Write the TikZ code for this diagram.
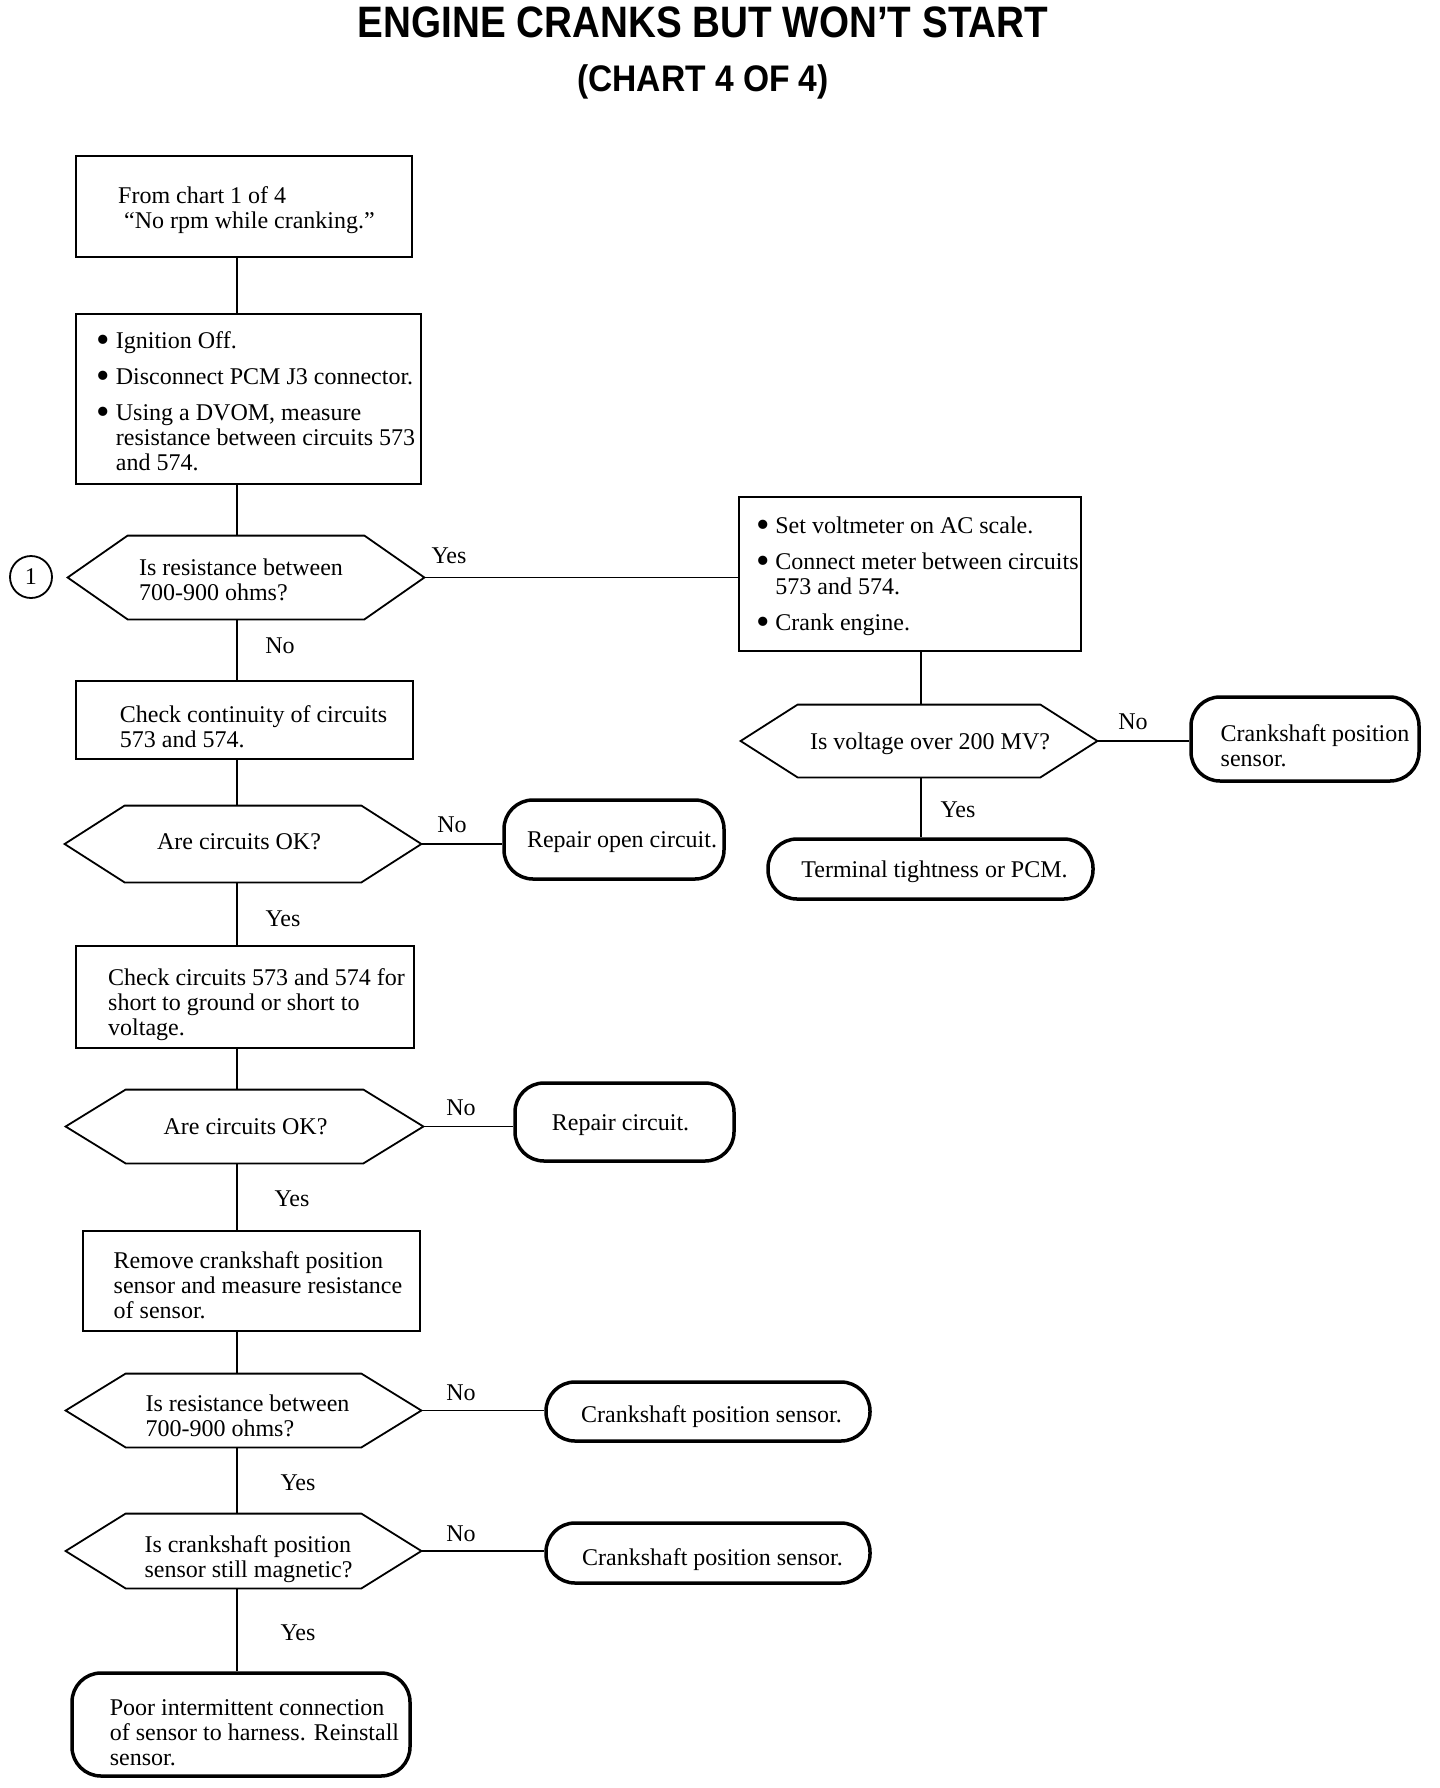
\documentclass[tikz,border=0pt]{standalone}
\usepackage{fontspec}
\setmainfont{Liberation Serif}
\newfontfamily\titlefont{Liberation Sans}
\usetikzlibrary{calc}
\newdimen\px \px=0.5pt
\newcommand\bul{\makebox[8.5pt][l]{\hspace*{-1.1pt}\raisebox{-2.2pt}{\scalebox{1.6}{\textbullet}}}}
\newcommand\ind{\hspace*{8.5pt}}
% text block shifted by (#1,#2) px without changing its box
\newcommand\tx[3]{\hspace*{#1\px}\raisebox{-#2\px}[\height][\depth]{\begin{tabular}{@{}l@{}}#3\end{tabular}}\hspace*{-#1\px}}
\begin{document}
\begin{tikzpicture}[x=0.5pt,y=-0.5pt,
  every node/.style={font=\fontsize{12pt}{12.5pt}\selectfont, inner sep=0pt},
  box/.style={draw, line width=2\px},
  hexnode/.style={},
  term/.style={draw, line width=3.5\px, rounded corners=29\px},
  conn/.style={line width=1.6\px},
  hexline/.style={line width=1.8\px, line join=miter},
  ttl/.style={anchor=base, font=\titlefont\bfseries\fontsize{22pt}{22pt}\selectfont},
  sub/.style={anchor=base, font=\titlefont\bfseries\fontsize{18.5pt}{18.5pt}\selectfont}]
\useasboundingbox (0,0) rectangle (1440,1788);

% titles
\node[ttl] (title) at (703,37) {\scalebox{0.878}[1]{ENGINE CRANKS BUT WON’T START}};
\node[sub] (subtitle) at (703,91) {\scalebox{0.907}[1]{(CHART 4 OF 4)}};

% trunk coordinates
\coordinate (trunk) at (237,0);
\coordinate (rtrunk) at (921,0);

% left column
\node[box, minimum width=336\px, minimum height=101\px] (b1) at (244,206.5)
  {\tx{2.5}{4}{From chart 1 of 4\\\hspace*{3pt}“No rpm while cranking.”}};
\node[box, minimum width=345\px, minimum height=170\px] (b2) at (248.5,399)
  {\tx{8.5}{5.5}{\bul Ignition Off.\\[5.5pt]
   \bul Disconnect PCM J3 connector.\\[5.5pt]
   \bul Using a DVOM, measure\\
   \ind resistance between circuits 573\\
   \ind and 574.}};
\node[hexnode, minimum width=356\px, minimum height=83\px] (h1) at (246,577.5)
  {\tx{-5}{5.5}{Is resistance between\\700-900 ohms?}};
\node[draw, circle, line width=1.8\px, minimum size=42\px] (c1) at (31,577) {1};

\node[box, minimum width=337\px, minimum height=78\px] (b4) at (244.5,720)
  {\tx{9}{10}{Check continuity of circuits\\573 and 574.}};
\node[hexnode, minimum width=356\px, minimum height=76\px] (h2) at (243,844)
  {\tx{-4}{0}{Are circuits OK?}};
\node[term, minimum width=220\px, minimum height=79\px] (t1) at (614,839.5)
  {\tx{8}{2.5}{Repair open circuit.}};

\node[box, minimum width=338\px, minimum height=102\px] (b5) at (245,997)
  {\tx{11.5}{8}{Check circuits 573 and 574 for\\short to ground or short to\\voltage.}};
\node[hexnode, minimum width=357\px, minimum height=73\px] (h3) at (244.5,1126.5)
  {\tx{1}{3}{Are circuits OK?}};
\node[term, minimum width=219\px, minimum height=78\px] (t2) at (624.5,1122)
  {\tx{-4}{3.5}{Repair circuit.}};

\node[box, minimum width=337\px, minimum height=100\px] (b6) at (251.5,1281)
  {\tx{6.5}{7.5}{Remove crankshaft position\\sensor and measure resistance\\of sensor.}};
\node[hexnode, minimum width=355\px, minimum height=73\px] (h4) at (243.5,1410.5)
  {\tx{4}{8}{Is resistance between\\700-900 ohms?}};
\node[term, minimum width=324\px, minimum height=59\px] (t3) at (708,1411.5)
  {\tx{3.5}{5.5}{Crankshaft position sensor.}};

\node[hexnode, minimum width=355\px, minimum height=74\px] (h5) at (243.5,1551)
  {\tx{5}{9}{Is crankshaft position\\sensor still magnetic?}};
\node[term, minimum width=324\px, minimum height=60\px] (t4) at (708,1553)
  {\tx{4.5}{7}{Crankshaft position sensor.}};

\node[term, minimum width=338\px, minimum height=103\px] (t5) at (241,1724.5)
  {\tx{13.5}{11}{Poor intermittent connection\\of sensor to harness. Reinstall\\sensor.}};

% right column
\node[box, minimum width=342\px, minimum height=154\px] (b3) at (910,574)
  {\tx{8.5}{2.5}{\bul Set voltmeter on AC scale.\\[5.5pt]
   \bul Connect meter between circuits\\
   \ind 573 and 574.\\[5.5pt]
   \bul Crank engine.}};
\node[hexnode, minimum width=356\px, minimum height=72\px] (hR) at (919,741)
  {\tx{11}{3.5}{Is voltage over 200 MV?}};
\node[term, minimum width=228\px, minimum height=84\px] (tR1) at (1305,739)
  {\tx{10}{10}{Crankshaft position\\sensor.}};
\node[term, minimum width=325\px, minimum height=60\px] (tR2) at (930.5,869)
  {\tx{4}{3.5}{Terminal tightness or PCM.}};

% hexagon outlines
\foreach \n/\d in {h1/60,h2/60,h3/60,h4/60,h5/60,hR/57}
  \draw[hexline] (\n.west) -- ($(\n.north west)+(\d,0)$) -- ($(\n.north east)+(-\d,0)$)
    -- (\n.east) -- ($(\n.south east)+(-\d,0)$) -- ($(\n.south west)+(\d,0)$) -- cycle;

% labels
\node (l1) at (449,556) {Yes};
\node (l2) at (280,646) {No};
\node (l3) at (452,825) {No};
\node (l4) at (283,919) {Yes};
\node (l5) at (1133,722) {No};
\node (l6) at (958,810) {Yes};
\node (l7) at (461,1108) {No};
\node (l8) at (292,1199) {Yes};
\node (l9) at (461,1393) {No};
\node (l10) at (298,1483) {Yes};
\node (l11) at (461,1534) {No};
\node (l12) at (298,1633) {Yes};

% connectors
\draw[conn] (b1.south -| trunk) -- (b2.north -| trunk);
\draw[conn] (b2.south -| trunk) -- (h1.north -| trunk);
\draw[conn] (h1.east) -- (h1.east -| b3.west);
\draw[conn] (h1.south -| trunk) -- (b4.north -| trunk);
\draw[conn] (b4.south -| trunk) -- (h2.north -| trunk);
\draw[conn] (h2.east) -- (h2.east -| t1.west);
\draw[conn] (h2.south -| trunk) -- (b5.north -| trunk);
\draw[conn] (b5.south -| trunk) -- (h3.north -| trunk);
\draw[conn] (h3.east) -- (h3.east -| t2.west);
\draw[conn] (h3.south -| trunk) -- (b6.north -| trunk);
\draw[conn] (b6.south -| trunk) -- (h4.north -| trunk);
\draw[conn] (h4.east) -- (h4.east -| t3.west);
\draw[conn] (h4.south -| trunk) -- (h5.north -| trunk);
\draw[conn] (h5.east) -- (h5.east -| t4.west);
\draw[conn] (h5.south -| trunk) -- (t5.north -| trunk);
\draw[conn] (b3.south -| rtrunk) -- (hR.north -| rtrunk);
\draw[conn] (hR.east) -- (hR.east -| tR1.west);
\draw[conn] (hR.south -| rtrunk) -- (tR2.north -| rtrunk);
\end{tikzpicture}
\end{document}
